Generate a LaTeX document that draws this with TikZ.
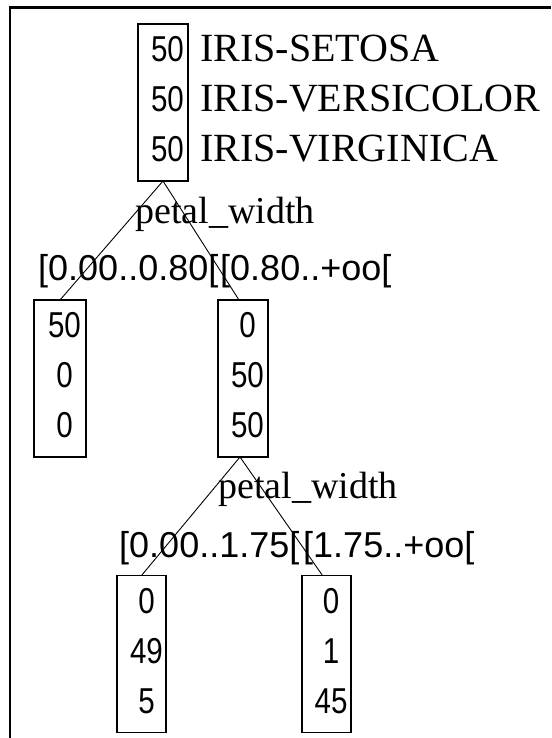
\documentclass[tikz,border=0pt]{standalone}
\usepackage{fontspec}
\newfontfamily\serifA{Liberation Serif}
\newfontfamily\sansA{Liberation Sans}
\newfontfamily\digA[FakeStretch=0.82]{Liberation Sans}
\tikzset{
  cbox/.style={draw, line width=1.6pt, inner sep=0pt, outer sep=0pt, minimum width=#1, minimum height=157pt},
  num/.style={anchor=base, inner sep=0pt, font=\digA\fontsize{36}{36}\selectfont},
  cls/.style={anchor=base west, inner sep=0pt, font=\serifA\fontsize{40}{40}\selectfont},
  attr/.style={anchor=base west, inner sep=0pt, font=\serifA\fontsize{38}{38}\selectfont},
  rng/.style={anchor=base west, inner sep=0pt, font=\sansA\fontsize{36}{36}\selectfont},
  edge/.style={line width=0.9pt},
  frame/.style={line width=2.6pt}
}
\begin{document}
\begin{tikzpicture}[x=1pt,y=-1pt]
\useasboundingbox (0,0) rectangle (551,738);
\fill[white] (0,0) rectangle (551,738);
% frame
\draw[frame] (8.7,7.5) -- (551,7.5);
\draw[frame] (10,6.2) -- (10,738);
% boxes
\node[cbox=50pt] (root) at (163,102.5) {};
\node[cbox=52pt] (lc) at (60,378.5) {};
\node[cbox=50pt] (rc) at (243,378.5) {};
\node[cbox=49pt] (bl) at (141.5,654) {};
\node[cbox=49pt] (br) at (326.5,654) {};
% root counts and class names
\node[num] (r1) at (167.5,62) {50};
\node[num] (r2) at (167.5,112) {50};
\node[num] (r3) at (167.5,162) {50};
\node[cls] (c1) at (200,62) {IRIS-SETOSA};
\node[cls] (c2) at (200,112) {IRIS-VERSICOLOR};
\node[cls] (c3) at (200,162) {IRIS-VIRGINICA};
% left child
\node[num] (l1) at (64.5,337) {50};
\node[num] (l2) at (64.5,387) {0};
\node[num] (l3) at (64.5,437) {0};
% right child
\node[num] (m1) at (247.5,337) {0};
\node[num] (m2) at (247.5,387) {50};
\node[num] (m3) at (247.5,437) {50};
% bottom left
\node[num] (b1) at (146.5,613) {0};
\node[num] (b2) at (146.5,663) {49};
\node[num] (b3) at (146.5,713) {5};
% bottom right
\node[num] (d1) at (331,613) {0};
\node[num] (d2) at (331,663) {1};
\node[num] (d3) at (331,713) {45};
% split labels
\node[attr] (a1) at (135,223) {petal\_width};
\node[rng] (i1) at (38,280) {[0.00..0.80[};
\node[rng] (i2) at (220,280) {[0.80..+oo[};
\node[attr] (a2) at (218,498) {petal\_width};
\node[rng] (i3) at (119,557) {[0.00..1.75[};
\node[rng] (i4) at (303,557) {[1.75..+oo[};
% connectors
\draw[edge] (root.south) -- (lc.north);
\draw[edge] (root.south) -- ([xshift=-4pt]rc.north);
\draw[edge] ([xshift=-3pt]rc.south) -- (bl.north);
\draw[edge] ([xshift=-3pt]rc.south) -- ([xshift=-4pt]br.north);
\end{tikzpicture}
\end{document}
